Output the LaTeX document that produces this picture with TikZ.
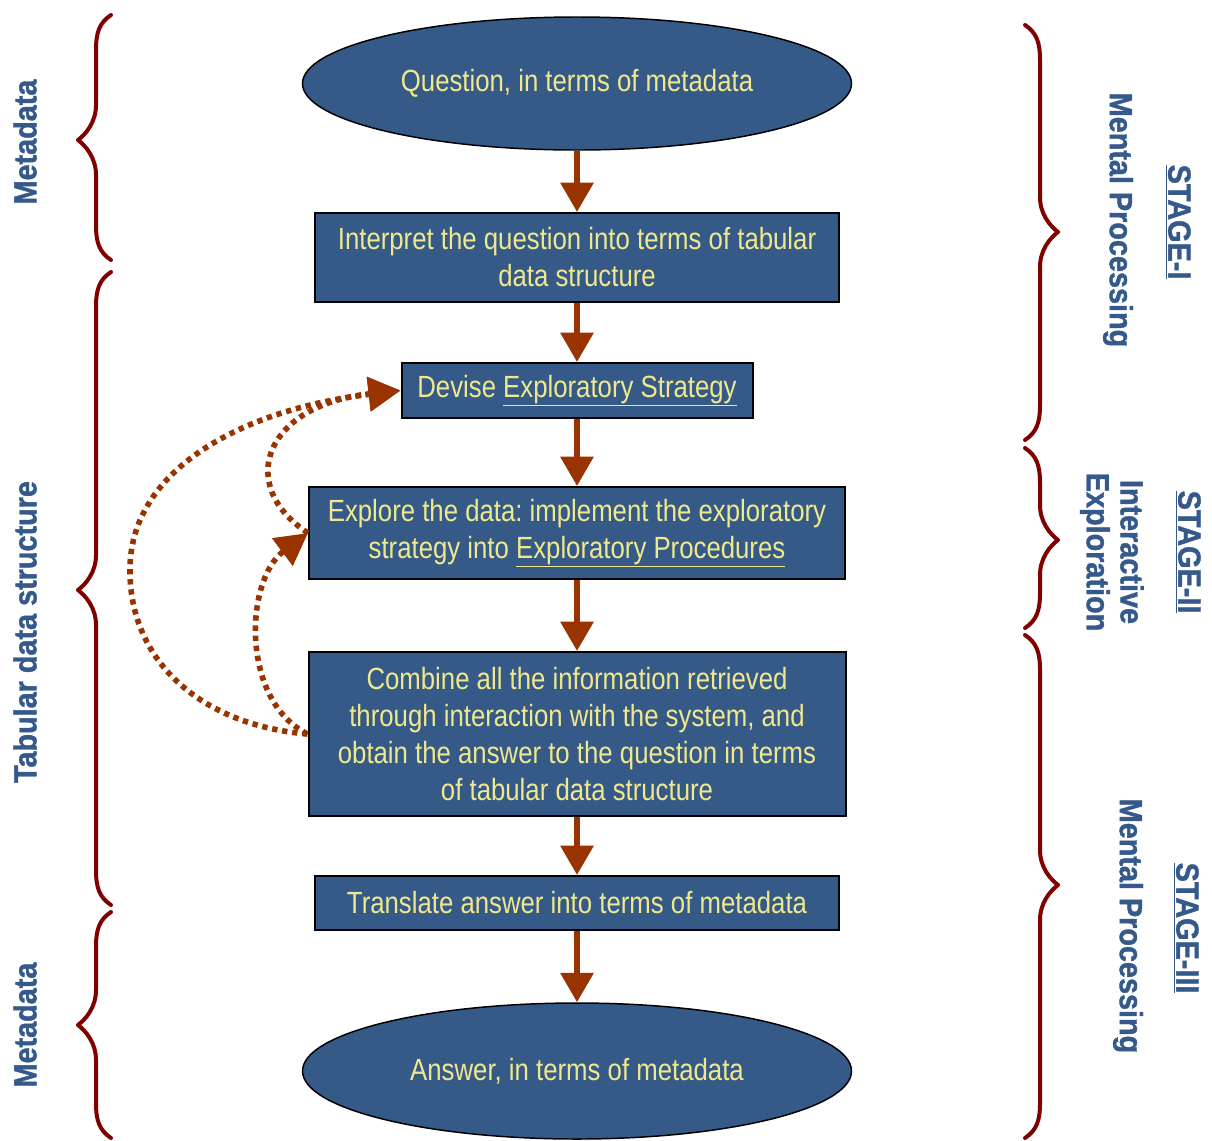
\documentclass[tikz,border=0pt]{standalone}
\usepackage{fontspec}
\usetikzlibrary{shapes.geometric,arrows.meta}
\newfontfamily\boxfont[FakeStretch=0.84]{Liberation Sans}
\newfontfamily\labfont[FakeStretch=0.9,FakeBold=1.3]{Liberation Sans Bold}
\definecolor{boxblue}{RGB}{53,90,136}
\definecolor{txtyellow}{RGB}{240,232,140}
\definecolor{labblue}{RGB}{52,89,138}
\definecolor{arrbrown}{RGB}{153,51,0}
\definecolor{bracered}{RGB}{128,0,0}
\newcommand{\leftbr}[4]{\draw[brc] ({#1+15},#2) .. controls ({#1+3},{#2+8}) and (#1,{#2+18}) .. (#1,{#2+35}) -- (#1,{#3-35}) .. controls (#1,{#3-18}) and ({#1-10},{#3-6}) .. ({#1-18},#3) .. controls ({#1-10},{#3+6}) and (#1,{#3+18}) .. (#1,{#3+35}) -- (#1,{#4-35}) .. controls (#1,{#4-18}) and ({#1+3},{#4-8}) .. ({#1+15},#4);}
\newcommand{\rightbr}[4]{\draw[brc] ({#1-15},#2) .. controls ({#1-3},{#2+8}) and (#1,{#2+18}) .. (#1,{#2+35}) -- (#1,{#3-35}) .. controls (#1,{#3-18}) and ({#1+10},{#3-6}) .. ({#1+18},#3) .. controls ({#1+10},{#3+6}) and (#1,{#3+18}) .. (#1,{#3+35}) -- (#1,{#4-35}) .. controls (#1,{#4-18}) and ({#1-3},{#4-8}) .. ({#1-15},#4);}
\begin{document}
\frenchspacing
\begin{tikzpicture}[x=0.75pt,y=-0.75pt,
 stepbox/.style={rectangle,draw=black,line width=1.5pt,fill=boxblue,text=txtyellow,align=center,inner sep=0pt,font=\boxfont\fontsize{23}{27.75}\selectfont},
 ovalbox/.style={ellipse,draw=black,line width=1.1pt,fill=boxblue,text=txtyellow,align=center,inner sep=0pt,font=\boxfont\fontsize{23}{27.75}\selectfont},
 flow/.style={draw=arrbrown,line width=4.5pt,-{Triangle[length=22pt,width=24pt]}},
 loopline/.style={draw=arrbrown,line width=4.2pt,dash pattern=on 4pt off 3.6pt,-{Triangle[length=24pt,width=25pt]}},
 brc/.style={draw=bracered,line width=3pt,line cap=round,line join=round},
 lab/.style={text=labblue,font=\labfont\fontsize{24}{28}\selectfont,inner sep=0pt}
]
\useasboundingbox (0,0) rectangle (1212,1140);

% flow nodes
\node[ovalbox,minimum width=411.75pt,minimum height=99.75pt] (e1) at (577,83.5) {Question, in terms of metadata};
\node[stepbox,minimum width=393pt,minimum height=66.75pt] (c2) at (577,257.5) {Interpret the question into terms of tabular\\data structure};
\node[stepbox,minimum width=263.25pt,minimum height=41.25pt] (c3) at (577,390.5) {Devise \underline{Exploratory Strategy}};
\node[stepbox,minimum width=402pt,minimum height=69pt] (c4) at (577,533) {Explore the data: implement the exploratory\\strategy into \underline{Exploratory Procedures}};
\node[stepbox,minimum width=402.75pt,minimum height=123pt] (c5) at (577,734) {Combine all the information retrieved\\through interaction with the system, and\\obtain the answer to the question in terms\\of tabular data structure};
\node[stepbox,minimum width=393pt,minimum height=40.5pt] (c6) at (577,903) {Translate answer into terms of metadata};
\node[ovalbox,minimum width=411.75pt,minimum height=102pt] (e2) at (577,1071) {Answer, in terms of metadata};

% flow arrows
\draw[flow] (e1.south) -- (c2.north);
\draw[flow] (c2.south) -- (c3.north);
\draw[flow] (c3.south) -- (c4.north);
\draw[flow] (c4.south) -- (c5.north);
\draw[flow] (c5.south) -- (c6.north);
\draw[flow] (c6.south) -- (e2.north);

% feedback loops
\draw[loopline] (c5.west) .. controls (200,725) and (128,660) .. (130,567) .. controls (132,470) and (240,410) .. (c3.west);
\draw[loopline] (c4.west) .. controls (235,485) and (265,405) .. (c3.west);
\draw[loopline] (c5.west) .. controls (240,700) and (245,580) .. (c4.west);

% braces
\leftbr{96}{15}{140}{260}
\leftbr{96}{272}{590}{905}
\leftbr{96}{912}{1025}{1138}
\rightbr{1040}{25}{232}{440}
\rightbr{1040}{448}{540}{628}
\rightbr{1040}{635}{885}{1138}

% left labels
\node[lab,rotate=90] (l1) at (25,142) {Metadata};
\node[lab,rotate=90] (l2) at (25,632) {Tabular data structure};
\node[lab,rotate=90] (l3) at (25,1025) {Metadata};

% right labels
\node[lab,rotate=-90] (s1) at (1178,222) {\underline{STAGE-I}};
\node[lab,rotate=-90] (p1) at (1118,220) {Mental Processing};
\node[lab,rotate=-90] (s2) at (1188,552) {\underline{STAGE-II}};
\node[lab,rotate=-90] (i2) at (1132,552) {Interactive};
\node[lab,rotate=-90] (x2) at (1095,552) {Exploration};
\node[lab,rotate=-90] (s3) at (1186,928) {\underline{STAGE-III}};
\node[lab,rotate=-90] (p3) at (1128,926) {Mental Processing};
\end{tikzpicture}
\end{document}
